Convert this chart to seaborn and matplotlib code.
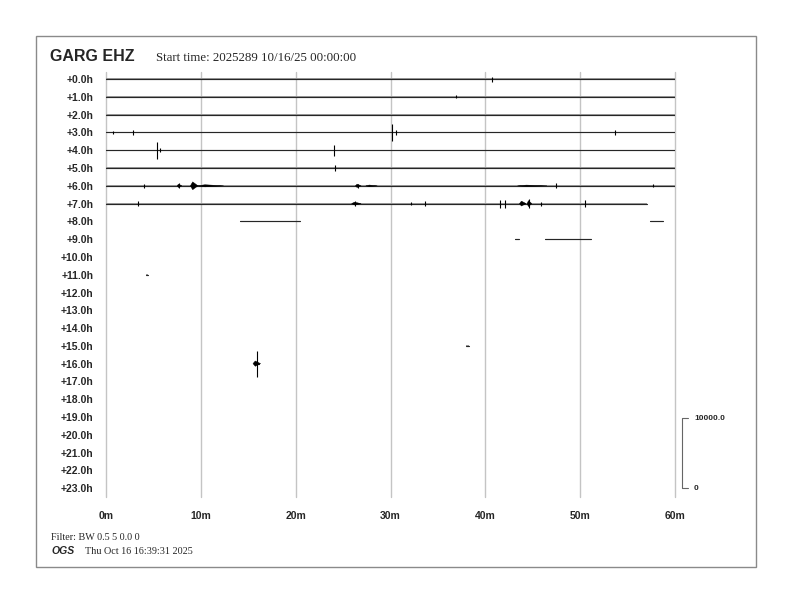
import numpy as np
import pandas as pd
import matplotlib
matplotlib.use("Agg")
import matplotlib.pyplot as plt
from matplotlib.patches import Rectangle
import seaborn as sns

# ---- helicorder content -------------------------------------------------
station = "GARG EHZ"
start_label = "Start time: 2025289 10/16/25 00:00:00"
filter_label = "Filter: BW 0.5 5 0.0 0"
agency = "OGS"
stamp = "Thu Oct 16 16:39:31 2025"

hour_labels = [f"+{h:.1f}h" for h in range(24)]
minute_ticks = [0, 10, 20, 30, 40, 50, 60]
minute_labels = ["0m", "10m", "20m", "30m", "40m", "50m", "60m"]

# recorded data segments: (row, start minute, end minute)
seg_rows = [0, 1, 2, 3, 4, 5, 6, 7, 8, 8, 9, 9, 11, 15, 16]
seg_start = [0, 0, 0, 0, 0, 0, 0, 0, 14.1, 57.4, 43.1, 46.3, 4.25, 38.0, 15.7]
seg_end = [60, 60, 60, 60, 60, 60, 60, 57.0, 20.5, 58.7, 43.5, 51.1, 4.40, 38.3, 16.1]
# background noise half-width per segment (counts)
seg_noise = [120, 100, 90, 130, 100, 80, 120, 140, 90, 90, 60, 80, 40, 60, 60]

# impulsive arrivals: (row, minute, half amplitude in counts)
spike_rows = [0, 1, 3, 3, 3, 3, 3, 4, 4, 4, 5, 6, 6, 6, 6, 6, 7, 7, 7, 7, 7, 7, 7, 7, 7, 16]
spike_min = [40.7, 36.9, 0.7, 2.8, 30.2, 30.6, 53.7, 5.35, 5.7, 24.0, 24.2,
             4.0, 7.7, 26.6, 47.5, 57.7, 3.4, 26.3, 32.2, 33.6, 41.5, 42.1,
             44.6, 45.9, 50.5, 15.9]
spike_amp = [350, 220, 200, 400, 1250, 300, 420, 1200, 280, 800, 420,
             300, 350, 300, 350, 220, 360, 300, 220, 360, 560, 560,
             640, 280, 500, 1860]

# emergent wave trains: (row, start minute, end minute, half amplitude in counts)
burst_rows = [6, 6, 6, 6, 6, 6, 7, 7, 7, 16]
burst_start = [7.5, 8.9, 9.6, 26.3, 27.4, 43.4, 25.9, 43.6, 44.4, 15.5]
burst_end = [8.0, 9.7, 12.4, 26.9, 28.6, 46.5, 26.9, 44.3, 44.9, 16.3]
burst_amp = [240, 560, 150, 240, 110, 100, 200, 350, 420, 380]

scale_counts = 10000.0
COUNTS_PER_ROW = 2540.0

# ---- figure ---------------------------------------------------------------
sns.set_style("white")
plt.rcParams["font.family"] = ["Liberation Sans", "DejaVu Sans"]

W, H = 792, 612
fig = plt.figure(figsize=(W / 100, H / 100), dpi=100)
ax = fig.add_axes([106 / W, 1 - 497 / H, (675 - 106) / W, (497 - 72) / H])

# minute grid lines (drawn unclipped so the 60m line shows at the edge)
for m in minute_ticks:
    ax.axvline(m, color="#c4c4c4", lw=1.0, zorder=0, clip_on=False)

# base traces via seaborn
pts = []
for i, (r, s, e) in enumerate(zip(seg_rows, seg_start, seg_end)):
    pts.append({"seg": i, "minute": s, "row": r})
    pts.append({"seg": i, "minute": e, "row": r})
trace_df = pd.DataFrame(pts)

# noise band around each trace
for r, s, e, n in zip(seg_rows, seg_start, seg_end, seg_noise):
    d = n / COUNTS_PER_ROW
    ax.fill_between([s, e], [r - d, r - d], [r + d, r + d],
                    color="#9e9e9e", lw=0, zorder=2)

sns.lineplot(data=trace_df, x="minute", y="row", units="seg", estimator=None,
             sort=False, color="#262626", lw=0.85, legend=False, ax=ax, zorder=3)

# wave trains as tapered envelopes
for r, s, e, a in zip(burst_rows, burst_start, burst_end, burst_amp):
    d = a / COUNTS_PER_ROW
    pk = s + 0.3 * (e - s)
    ax.fill([s, pk, e, pk], [r, r - d, r, r + d], color="black", lw=0.3,
            zorder=4)

# impulsive spikes
sr = np.array(spike_rows, float)
sa = np.array(spike_amp) / COUNTS_PER_ROW
ax.vlines(spike_min, sr - sa, sr + sa, color="black", lw=0.8, zorder=4)

# axes styling
ax.set_xlim(0, 60)
ax.set_ylim(23.5, -0.4)
ax.set_xticks(minute_ticks)
ax.set_xticklabels(minute_labels, fontsize=7.5, fontweight="bold")
ax.set_yticks(range(24))
ax.set_yticklabels(hour_labels, fontsize=7.5, fontweight="bold")
ax.tick_params(axis="x", length=0, pad=10)
ax.tick_params(axis="y", length=0, pad=9)
ax.set_xlabel("")
ax.set_ylabel("")
ax.grid(False)
for sp in ax.spines.values():
    sp.set_visible(False)

# amplitude scale bar
px_per_min = (675 - 106) / 60
xb = 60 + 7 / px_per_min
xt = 60 + 13 / px_per_min
y0 = 23.0
y1 = 23.0 - scale_counts / COUNTS_PER_ROW
ax.plot([xt, xb, xb, xt], [y1, y1, y0, y0], color="#666666", lw=0.8,
        clip_on=False)
ax.text(60 + 19 / px_per_min, y1, f"{scale_counts:.1f}", fontsize=6,
        fontweight="bold", va="center", ha="left", clip_on=False)
ax.text(60 + 19 / px_per_min, y0, "0", fontsize=6, fontweight="bold",
        va="center", ha="left", clip_on=False)

# header and footer
fig.text(50 / W, 1 - 61 / H, station, fontsize=11.5, fontweight="bold",
         va="baseline", ha="left")
fig.text(156 / W, 1 - 61 / H, start_label, fontsize=9.3,
         family=["Liberation Serif", "DejaVu Serif"], va="baseline", ha="left")
fig.text(51 / W, 1 - 537 / H, filter_label, fontsize=7.3,
         family=["Liberation Serif", "DejaVu Serif"], va="center", ha="left")
fig.text(51 / W, 1 - 551 / H, agency, fontsize=7.5, fontweight="bold",
         style="italic", va="center", ha="left")
fig.text(85 / W, 1 - 551 / H, stamp, fontsize=7.3,
         family=["Liberation Serif", "DejaVu Serif"], va="center", ha="left")

# page frame
fig.patches.append(Rectangle((36 / W, 1 - 567 / H), (756 - 36) / W,
                             (567 - 36) / H, transform=fig.transFigure,
                             fill=False, edgecolor="#8a8a8a", lw=1.0))

fig.savefig("out.png", dpi=100)
